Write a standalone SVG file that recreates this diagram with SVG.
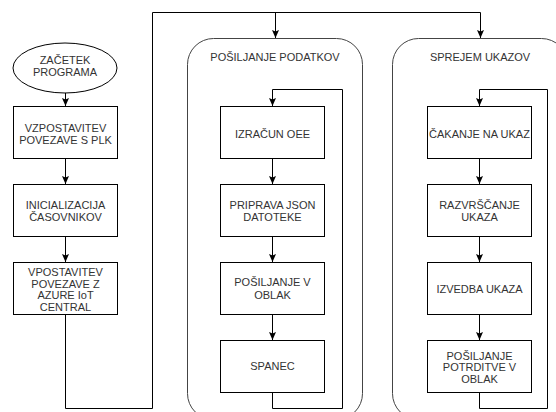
<svg xmlns="http://www.w3.org/2000/svg" width="556" height="412" viewBox="0 0 556 412">
<defs>
<marker id="arr" viewBox="0 0 8 8" refX="8" refY="4" markerWidth="8" markerHeight="8" markerUnits="userSpaceOnUse" orient="auto">
<path d="M0,0.5 L8,4 L0,7.5 L1.5,4 z" fill="#000"/>
</marker>
<style>
.box{fill:#fff;stroke:#000;stroke-width:1}
.cont{fill:#fff;stroke:#444;stroke-width:1}
.t{font-family:"Liberation Sans",Arial,sans-serif;font-size:11px;fill:#333;text-anchor:middle}
.c{fill:none;stroke:#000;stroke-width:1}
</style>
</defs>
<rect width="556" height="412" fill="#fff"/>
<g id="cont1"><rect class="cont" x="187.5" y="38.5" width="175" height="381" rx="26" ry="26"/><text class="t" x="275" y="60.5">POŠILJANJE PODATKOV</text></g>
<g id="cont2"><rect class="cont" x="392.5" y="38.5" width="175" height="381" rx="26" ry="26"/><text class="t" x="480" y="60.5">SPREJEM UKAZOV</text></g>
<g id="connectors">
<path class="c" d="M65.5,93 V106" marker-end="url(#arr)"/>
<path class="c" d="M65.5,158 V184" marker-end="url(#arr)"/>
<path class="c" d="M65.5,236 V262" marker-end="url(#arr)"/>
<path class="c" d="M65.5,314 V408.5 H152.5 V12.5 H480.5 V38" marker-end="url(#arr)"/>
<path class="c" d="M275.5,12.5 V38" marker-end="url(#arr)"/>
<path class="c" d="M272.5,158 V184" marker-end="url(#arr)"/>
<path class="c" d="M272.5,236 V262" marker-end="url(#arr)"/>
<path class="c" d="M272.5,314 V340" marker-end="url(#arr)"/>
<path class="c" d="M272.5,392 V408.5 H342.5 V89.5 H272.5 V106" marker-end="url(#arr)"/>
<path class="c" d="M479.5,158 V184" marker-end="url(#arr)"/>
<path class="c" d="M479.5,236 V262" marker-end="url(#arr)"/>
<path class="c" d="M479.5,314 V340" marker-end="url(#arr)"/>
<path class="c" d="M479.5,392 V408.5 H547.5 V89.5 H479.5 V106" marker-end="url(#arr)"/>
</g>
<g id="start"><ellipse class="box" cx="65" cy="68" rx="52" ry="25"/><text class="t" x="65" y="63.5">ZAČETEK</text><text class="t" x="65" y="76">PROGRAMA</text></g>
<g id="plk"><rect class="box" x="13.5" y="106.5" width="104" height="52"/><text class="t" x="65.5" y="131.5">VZPOSTAVITEV</text><text class="t" x="65.5" y="143.5">POVEZAVE S PLK</text></g>
<g id="timers"><rect class="box" x="13.5" y="184.5" width="104" height="52"/><text class="t" x="65.5" y="208.5">INICIALIZACIJA</text><text class="t" x="65.5" y="220.5">ČASOVNIKOV</text></g>
<g id="azure"><rect class="box" x="13.5" y="262.5" width="104" height="52"/><text class="t" x="65.5" y="276">VPOSTAVITEV</text><text class="t" x="65.5" y="287.5">POVEZAVE Z</text><text class="t" x="65.5" y="299">AZURE IoT</text><text class="t" x="65.5" y="310.5">CENTRAL</text></g>
<g id="oee"><rect class="box" x="220.5" y="106.5" width="104" height="52"/><text class="t" x="272.5" y="138">IZRAČUN OEE</text></g>
<g id="json"><rect class="box" x="220.5" y="184.5" width="104" height="52"/><text class="t" x="272.5" y="208.5">PRIPRAVA JSON</text><text class="t" x="272.5" y="221">DATOTEKE</text></g>
<g id="send"><rect class="box" x="220.5" y="262.5" width="104" height="52"/><text class="t" x="272.5" y="286">POŠILJANJE V</text><text class="t" x="272.5" y="298.5">OBLAK</text></g>
<g id="sleep"><rect class="box" x="220.5" y="340.5" width="104" height="52"/><text class="t" x="272.5" y="369.5">SPANEC</text></g>
<g id="wait"><rect class="box" x="427.5" y="106.5" width="104" height="52"/><text class="t" x="479.5" y="138">ČAKANJE NA UKAZ</text></g>
<g id="sort"><rect class="box" x="427.5" y="184.5" width="104" height="52"/><text class="t" x="479.5" y="208.5">RAZVRŠČANJE</text><text class="t" x="479.5" y="221">UKAZA</text></g>
<g id="exec"><rect class="box" x="427.5" y="262.5" width="104" height="52"/><text class="t" x="479.5" y="293">IZVEDBA UKAZA</text></g>
<g id="ack"><rect class="box" x="427.5" y="340.5" width="104" height="52"/><text class="t" x="479.5" y="359.5">POŠILJANJE</text><text class="t" x="479.5" y="371">POTRDITVE V</text><text class="t" x="479.5" y="382.5">OBLAK</text></g>
</svg>
